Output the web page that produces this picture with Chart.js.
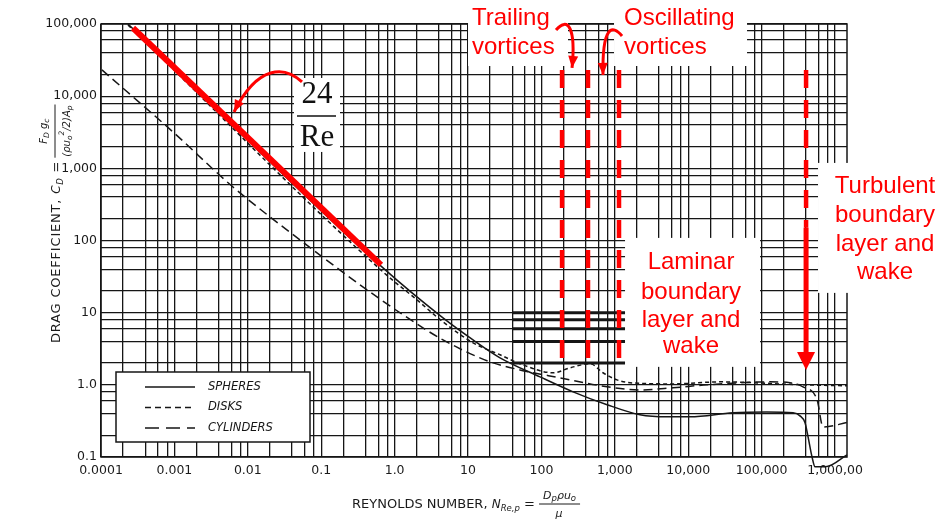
<!DOCTYPE html>
<html lang="en">
<head>
<meta charset="UTF-8">
<title>Drag coefficient vs Reynolds number</title>
<script src="https://cdn.jsdelivr.net/npm/chart.js"></script>
<style>
  html, body { margin: 0; padding: 0; background: #fff; }
</style>
</head>
<body>
<canvas id="dragChart" width="939" height="521"></canvas>
<script>
// ---- values ----
const spheresRe = [2.33e-4, 0.695, 4.56, 11.7, 27.3, 95.7, 270, 784, 2200, 5140, 10600, 40700, 118000, 268000, 333000, 390000, 429000, 486000, 534000, 778000, 1.455e6];
const spheresCd = [100000, 41.7, 8.47, 4.2, 2.37, 1.29, 0.80, 0.53, 0.385, 0.36, 0.36, 0.41, 0.42, 0.41, 0.372, 0.298, 0.19, 0.10, 0.073, 0.074, 0.107];

const disksRe = [2.33e-4, 0.695, 2.02, 4.56, 11.7, 27.3, 51, 144, 245, 459, 690, 1070, 1610, 6210, 27100, 366000, 1.455e6];
const disksCd = [96900, 36.7, 15.0, 7.46, 3.82, 2.61, 1.96, 1.47, 1.72, 1.96, 1.47, 1.17, 1.07, 1.03, 1.10, 1.00, 0.97];

const cylRe = [1.03e-4, 9.57e-4, 6.28e-3, 0.0514, 0.421, 1.19, 4.56, 20, 51, 179, 784, 2200, 6210, 18000, 130000, 244000, 366000, 569000, 687000, 1.455e6];
const cylCd = [23100, 3190, 552, 102, 20.7, 9.93, 4.2, 2.08, 1.61, 1.25, 0.94, 0.85, 0.91, 1.0, 1.10, 1.07, 0.94, 0.62, 0.26, 0.30];

const stokesRe = [2.73e-4, 0.653];
const stokesCd = [88100, 46];

const vortexRe = [191, 431, 1140];
const vortexCd = [23000, 2.22];
const turbRe = 403000;
const turbCd = [23000, 150, 2.86, 1.61];

const xDecades = [1e-4, 1e-3, 1e-2, 1e-1, 1, 10, 100, 1000, 1e4, 1e5, 1e6];
const xTickLabels = ['0.0001', '0.001', '0.01', '0.1', '1.0', '10', '100', '1,000', '10,000', '100,000', '1,000,00'];
const yDecades = [0.1, 1, 10, 100, 1000, 1e4, 1e5];
const yTickLabels = ['0.1', '1.0', '10', '100', '1,000', '10,000', '100,000'];
const gridSteps = [1, 2, 4, 6, 8];

const heavyCd = [2, 4, 6, 8, 10];
const heavyRe = [40, 1380];

// ---- annotation layout (log10 Re, log10 Cd) ----
const notes = [
  { text: 'Trailing', lx: 1.054, ly: 5.083, align: 'left' },
  { text: 'vortices', lx: 1.054, ly: 4.681, align: 'left' },
  { text: 'Oscillating', lx: 3.125, ly: 5.083, align: 'left' },
  { text: 'vortices', lx: 3.125, ly: 4.681, align: 'left' },
  { text: 'Laminar', lx: 4.038, ly: 1.690, align: 'center' },
  { text: 'boundary', lx: 4.038, ly: 1.288, align: 'center' },
  { text: 'layer and', lx: 4.038, ly: 0.900, align: 'center' },
  { text: 'wake', lx: 4.038, ly: 0.526, align: 'center' },
  { text: 'Turbulent', lx: 6.681, ly: 2.756, align: 'center' },
  { text: 'boundary', lx: 6.681, ly: 2.355, align: 'center' },
  { text: 'layer and', lx: 6.681, ly: 1.953, align: 'center' },
  { text: 'wake', lx: 6.681, ly: 1.565, align: 'center' }
];
// [lx0, lx1, lyTop, lyBottom]
const whiteBoxes = [
  [-1.371, -0.744, 4.252, 3.227],
  [1.0, 2.362, 5.4, 4.418],
  [2.989, 4.801, 5.4, 4.418],
  [3.139, 4.978, 2.036, 0.249],
  [5.768, 7.5, 3.075, 1.274]
];
const curlyArrows = [
  [[-1.262, 4.197], [-1.493, 4.418], [-1.861, 4.446], [-2.188, 3.781]],
  [[2.199, 4.917], [2.362, 5.111], [2.471, 4.945], [2.417, 4.391]],
  [[3.098, 4.834], [2.962, 5.0], [2.826, 4.972], [2.839, 4.294]]
];
const stokesLabel = { lx: -1.057, top: 4.017, bar: 3.726, barX: [-1.330, -0.798], bottom: 3.421 };

const RED = '#ff0000';
const INK = '#161616';
const SANS = '"DejaVu Sans", sans-serif';

const pts = (xs, ys) => xs.map((v, i) => ({ x: v, y: ys[i] }));

function gridValues(decades, max) {
  const out = [];
  decades.forEach(d => gridSteps.forEach(s => { if (d * s <= max * 1.0001) out.push(d * s); }));
  return out;
}
function labelFor(v, decades, labels) {
  const i = decades.findIndex(d => Math.abs(Math.log10(v) - Math.log10(d)) < 1e-6);
  return i >= 0 ? labels[i] : '';
}

function arrowHead(ctx, fx, fy, tx, ty, len, half) {
  const a = Math.atan2(ty - fy, tx - fx);
  const bx = tx - len * Math.cos(a), by = ty - len * Math.sin(a);
  ctx.beginPath();
  ctx.moveTo(tx, ty);
  ctx.lineTo(bx + half * Math.sin(a), by - half * Math.cos(a));
  ctx.lineTo(bx - half * Math.sin(a), by + half * Math.cos(a));
  ctx.closePath();
  ctx.fill();
}

function drawRuns(ctx, runs, x0, y0) {
  let x = x0;
  runs.forEach(r => {
    ctx.font = r.f;
    ctx.fillText(r.t, x, y0 + (r.dy || 0));
    x += ctx.measureText(r.t).width;
  });
  return x;
}
function runsWidth(ctx, runs) {
  let w = 0;
  runs.forEach(r => { ctx.font = r.f; w += ctx.measureText(r.t).width; });
  return w;
}

const R13 = '13px ' + SANS, I12 = 'italic 12px ' + SANS, I11 = 'italic 11px ' + SANS, I8 = 'italic 8.5px ' + SANS;
const I10 = 'italic 10px ' + SANS, I7 = 'italic 7.5px ' + SANS;

const decor = {
  id: 'decor',
  beforeDatasetsDraw(chart) {
    const { ctx, chartArea: a, scales: { x, y } } = chart;
    const X = lx => x.getPixelForValue(Math.pow(10, lx));
    const Y = ly => y.getPixelForValue(Math.pow(10, ly));
    ctx.save();
    ctx.strokeStyle = INK;
    ctx.lineWidth = 1.5;
    ctx.strokeRect(a.left, a.top, a.right - a.left, a.bottom - a.top);
    ctx.lineWidth = 3;
    heavyCd.forEach(v => {
      ctx.beginPath();
      ctx.moveTo(x.getPixelForValue(heavyRe[0]), y.getPixelForValue(v));
      ctx.lineTo(x.getPixelForValue(heavyRe[1]), y.getPixelForValue(v));
      ctx.stroke();
    });
    ctx.fillStyle = '#fff';
    whiteBoxes.forEach(b => {
      ctx.fillRect(X(b[0]), Y(b[2]), X(b[1]) - X(b[0]), Y(b[3]) - Y(b[2]));
    });
    // legend box
    const lx = a.left + 15, ly = a.bottom - 85;
    ctx.fillRect(lx, ly, 194, 70);
    ctx.strokeStyle = INK;
    ctx.lineWidth = 1.5;
    ctx.strokeRect(lx, ly, 194, 70);
    ctx.restore();
  },
  afterDatasetsDraw(chart) {
    const { ctx, chartArea: a, scales: { x, y } } = chart;
    const X = lx => x.getPixelForValue(Math.pow(10, lx));
    const Y = ly => y.getPixelForValue(Math.pow(10, ly));
    ctx.save();

    // red notes
    ctx.fillStyle = RED;
    ctx.font = '24px "Liberation Sans", Arial, sans-serif';
    ctx.textBaseline = 'middle';
    notes.forEach(n => {
      ctx.textAlign = n.align;
      ctx.fillText(n.text, X(n.lx), Y(n.ly));
    });

    // curly arrows
    ctx.strokeStyle = RED;
    ctx.lineWidth = 3;
    curlyArrows.forEach(p => {
      const q = p.map(c => [X(c[0]), Y(c[1])]);
      ctx.beginPath();
      ctx.moveTo(q[0][0], q[0][1]);
      ctx.bezierCurveTo(q[1][0], q[1][1], q[2][0], q[2][1], q[3][0], q[3][1]);
      ctx.stroke();
      arrowHead(ctx, q[2][0], q[2][1], q[3][0], q[3][1], 12, 5);
    });

    // turbulent arrow head
    const tx = x.getPixelForValue(turbRe);
    const by = y.getPixelForValue(turbCd[2]), ty = y.getPixelForValue(turbCd[3]);
    ctx.beginPath();
    ctx.moveTo(tx - 9, by);
    ctx.lineTo(tx + 9, by);
    ctx.lineTo(tx, ty);
    ctx.closePath();
    ctx.fill();

    // 24 / Re
    ctx.fillStyle = '#111';
    ctx.textAlign = 'center';
    ctx.font = '31px "Liberation Serif", "Times New Roman", serif';
    ctx.fillText('24', X(stokesLabel.lx), Y(stokesLabel.top));
    ctx.fillText('Re', X(stokesLabel.lx), Y(stokesLabel.bottom));
    ctx.strokeStyle = '#111';
    ctx.lineWidth = 1.5;
    ctx.beginPath();
    ctx.moveTo(X(stokesLabel.barX[0]), Y(stokesLabel.bar));
    ctx.lineTo(X(stokesLabel.barX[1]), Y(stokesLabel.bar));
    ctx.stroke();

    // legend entries
    const lx = a.left + 15, ly = a.bottom - 85;
    ctx.textAlign = 'left';
    ctx.font = 'italic 11.5px ' + SANS;
    let row = 0;
    chart.data.datasets.forEach(ds => {
      if (!ds.legendLabel) return;
      const yy = ly + 15 + row * 20.5;
      ctx.strokeStyle = INK;
      ctx.lineWidth = 1.5;
      ctx.setLineDash(ds.legendDash || []);
      ctx.beginPath();
      ctx.moveTo(lx + 29, yy);
      ctx.lineTo(lx + 79, yy);
      ctx.stroke();
      ctx.setLineDash([]);
      ctx.fillStyle = INK;
      ctx.fillText(ds.legendLabel, lx + 92, yy);
      row++;
    });

    // x title
    ctx.fillStyle = '#1a1a1a';
    ctx.textAlign = 'left';
    const xt = a.bottom + 48;
    let cx = drawRuns(ctx, [
      { t: 'REYNOLDS NUMBER, ', f: R13 },
      { t: 'N', f: I12 },
      { t: 'Re,p', f: I8, dy: 4 },
      { t: ' = ', f: R13 }
    ], a.left + 251, xt);
    const xNum = [{ t: 'D', f: I11 }, { t: 'p', f: I8, dy: 3 }, { t: 'ρu', f: I11 }, { t: 'o', f: I8, dy: 3 }];
    const nw = runsWidth(ctx, xNum);
    drawRuns(ctx, xNum, cx + 4, xt - 9);
    ctx.strokeStyle = '#1a1a1a';
    ctx.lineWidth = 1;
    ctx.beginPath();
    ctx.moveTo(cx, xt - 1);
    ctx.lineTo(cx + nw + 8, xt - 1);
    ctx.stroke();
    ctx.font = I11;
    ctx.fillText('μ', cx + nw / 2, xt + 9);

    // y title
    ctx.translate(a.left - 44, a.bottom - 114);
    ctx.rotate(-Math.PI / 2);
    ctx.letterSpacing = '0.8px';
    let ct = drawRuns(ctx, [
      { t: 'DRAG COEFFICIENT, ', f: R13 },
      { t: 'C', f: I12 },
      { t: 'D', f: I8, dy: 4 },
      { t: ' =', f: R13 }
    ], 0, 0);
    ctx.letterSpacing = '0px';
    const yNum = [{ t: 'F', f: I10 }, { t: 'D', f: I7, dy: 3 }, { t: ' g', f: I10 }, { t: 'c', f: I7, dy: 3 }];
    const yDen = [{ t: '(ρu', f: I10 }, { t: 'o', f: I7, dy: 3 }, { t: '2', f: I7, dy: -5 }, { t: '/2)A', f: I10 }, { t: 'p', f: I7, dy: 3 }];
    const dw = runsWidth(ctx, yDen);
    const fw = Math.max(dw, runsWidth(ctx, yNum)) + 2;
    const f0 = ct + 3;
    drawRuns(ctx, yNum, f0 + (fw - runsWidth(ctx, yNum)) / 2, -13);
    drawRuns(ctx, yDen, f0 + (fw - dw) / 2, 10);
    ctx.beginPath();
    ctx.moveTo(f0, -2);
    ctx.lineTo(f0 + fw, -2);
    ctx.stroke();

    ctx.restore();
  }
};

const blackLine = { borderColor: INK, borderWidth: 1.5, pointRadius: 0, fill: false, cubicInterpolationMode: 'monotone', order: 2 };
const redDash = { borderColor: RED, borderWidth: 4.5, borderDash: [18, 12], pointRadius: 0, fill: false, order: 1 };

const datasets = [
  { label: '24/Re', data: pts(stokesRe, stokesCd), borderColor: RED, borderWidth: 6, borderCapStyle: 'butt', pointRadius: 0, fill: false, order: 0 },
  Object.assign({ label: 'Spheres', legendLabel: 'SPHERES', legendDash: [], data: pts(spheresRe, spheresCd), clip: false }, blackLine),
  Object.assign({ label: 'Disks', legendLabel: 'DISKS', legendDash: [6, 4], data: pts(disksRe, disksCd), borderDash: [4, 3] }, blackLine),
  Object.assign({ label: 'Cylinders', legendLabel: 'CYLINDERS', legendDash: [14, 7], data: pts(cylRe, cylCd), borderDash: [9, 5] }, blackLine)
];
vortexRe.forEach(r => {
  datasets.push(Object.assign({ label: 'vortex ' + r, data: pts([r, r], vortexCd) }, redDash));
});
datasets.push(Object.assign({ label: 'turbulent', data: pts([turbRe, turbRe], turbCd.slice(0, 2)) }, redDash));
datasets.push({ label: 'turbulent arrow', data: pts([turbRe, turbRe], turbCd.slice(1, 3)), borderColor: RED, borderWidth: 5, pointRadius: 0, fill: false, order: 1 });

const tickFont = { family: 'DejaVu Sans', size: 12.5 };

new Chart(document.getElementById('dragChart'), {
  type: 'line',
  data: { datasets: datasets },
  options: {
    responsive: false,
    animation: false,
    layout: { padding: { top: 24, right: 92, left: 0, bottom: 0 } },
    plugins: { legend: { display: false }, tooltip: { enabled: false } },
    scales: {
      x: {
        type: 'logarithmic',
        min: 1e-4,
        max: 1.455e6,
        afterBuildTicks: s => { s.ticks = gridValues(xDecades, 1.455e6).map(v => ({ value: v })); },
        afterFit: s => { s.height = 64; },
        grid: { color: INK, lineWidth: 1.3, drawTicks: false },
        border: { display: false },
        ticks: {
          autoSkip: false, maxRotation: 0, minRotation: 0, padding: 6,
          color: '#1a1a1a', font: tickFont,
          callback: v => labelFor(v, xDecades, xTickLabels)
        }
      },
      y: {
        type: 'logarithmic',
        min: 0.1,
        max: 1e5,
        afterBuildTicks: s => { s.ticks = gridValues(yDecades, 1e5).map(v => ({ value: v })); },
        afterFit: s => { s.width = 101; },
        grid: { color: INK, lineWidth: 1.3, drawTicks: false },
        border: { display: false },
        ticks: {
          autoSkip: false, padding: 4,
          color: '#1a1a1a', font: tickFont,
          callback: v => labelFor(v, yDecades, yTickLabels)
        }
      }
    }
  },
  plugins: [decor]
});
</script>
</body>
</html>
